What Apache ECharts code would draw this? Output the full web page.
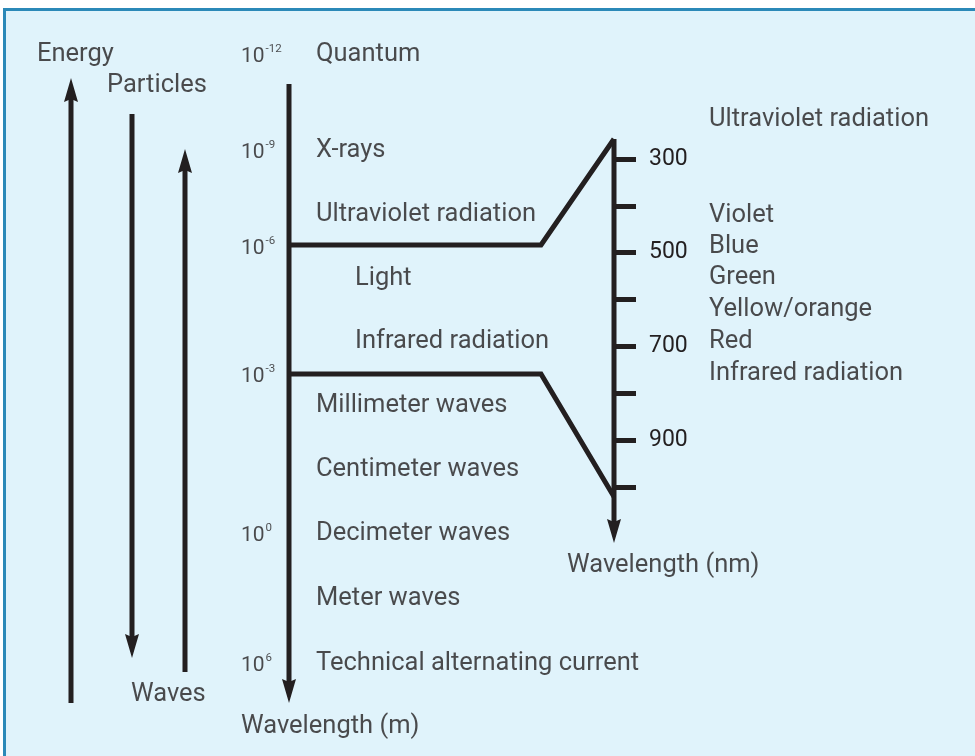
<!DOCTYPE html>
<html><head><meta charset="utf-8">
<script src="https://cdn.jsdelivr.net/npm/echarts@6/dist/echarts.min.js"></script>
<style>
html,body{margin:0;padding:0;background:#fff;}
#panel{position:absolute;left:3px;top:8px;width:972px;height:748px;box-sizing:border-box;background:#e0f3fb;border-top:3px solid #2b89b8;border-left:3px solid #2b89b8;}
#chart{position:absolute;left:0;top:0;width:975px;height:756px;}
</style></head><body>
<div id="panel"></div><div id="chart"></div>
<script>
// ---------------- data ----------------
const sideLabels = ['Energy', 'Particles', 'Waves'];
const decadeExponents = ['-12', '-9', '-6', '-3', '0', '6'];
const bandNames = ['Quantum', 'X-rays', 'Ultraviolet radiation', 'Light', 'Infrared radiation',
  'Millimeter waves', 'Centimeter waves', 'Decimeter waves', 'Meter waves', 'Technical alternating current'];
const mainAxisName = 'Wavelength (m)';
const nmTicks = [300, 400, 500, 600, 700, 800, 900, 1000];
const nmTickLabels = [300, 500, 700, 900];
const spectrumNames = ['Ultraviolet radiation', 'Violet', 'Blue', 'Green', 'Yellow/orange', 'Red', 'Infrared radiation'];
const spectrumNm = [215, 420, 486, 554, 622, 690, 759];
const nmAxisName = 'Wavelength (nm)';
const nmScaleTop = 257.3;      // nm where the zoom scale starts
const nmScaleTip = 1119.5;     // nm at the arrow tip
const zoomEdgeNm = [257.3, 1021]; // nm where the two zoom lines meet the scale

// ---------------- layout (diagram units) ----------------
const INK = '#231f20';
const FONT = 'Roboto';
const FS = 25.5;
const ARROW = 'path://M7,0L14,24L7,21L0,24Z';
const AH = 24, AW = 14;
const layout = {
  sideX: [37, 107, 131], sideY: [55, 86, 695],
  energyX: 71, energyY: [703, 78],
  particlesX: 132, particlesY: [114, 658],
  wavesX: 185, wavesY: [672, 149],
  axisX: 289, axisY: [84, 703],
  decadeX: 241, decadeY: [55, 151, 247, 375, 534, 664],
  bandX: [316, 316, 316, 355, 355, 316, 316, 316, 316, 316],
  bandY: [55, 151, 215, 279, 342, 406, 470, 534, 599, 664],
  mainNameXY: [241, 727],
  bracketY: [245, 374], bracketKneeX: 541,
  nmAxisX: 614, nmTop: 139, nmTip: 543,
  spectrumDX: 95, nmLabelMargin: 35, tickLen: 22,
  nmNameXY: [567, 566]
};

function nmToY(nm) {
  return layout.nmTop + (nm - nmScaleTop) * (layout.nmTip - layout.nmTop) / (nmScaleTip - nmScaleTop);
}

function arrowLine(pts, dir) {
  const data = pts.map((p, i) => {
    if (dir && i === pts.length - 1) {
      return { value: p, symbol: ARROW, symbolSize: [AW, AH], symbolRotate: dir === 'down' ? 180 : 0 };
    }
    return { value: p, symbol: 'none' };
  });
  return {
    type: 'line', xAxisIndex: 0, yAxisIndex: 0, data, showSymbol: true, showAllSymbol: true,
    lineStyle: { color: INK, width: 5, join: 'miter', cap: 'butt' },
    itemStyle: { color: INK, borderWidth: 0 }, silent: true, z: 3, clip: false
  };
}
function vArrow(x, yStart, yTip) {
  const dir = yTip > yStart ? 'down' : 'up';
  const yc = dir === 'down' ? yTip - AH / 2 : yTip + AH / 2;
  return arrowLine([[x, yStart], [x, yc]], dir);
}

const texts = [];
sideLabels.forEach((t, i) => texts.push({ value: [layout.sideX[i], layout.sideY[i]], text: t }));
bandNames.forEach((t, i) => texts.push({ value: [layout.bandX[i], layout.bandY[i]], text: t }));
texts.push({ value: layout.mainNameXY, text: mainAxisName });
texts.push({ value: layout.nmNameXY, text: nmAxisName });
decadeExponents.forEach((e, i) => texts.push({ value: [layout.decadeX, layout.decadeY[i]], text: '{n|10}{s|' + e + '}' }));

const series = [
  vArrow(layout.energyX, layout.energyY[0], layout.energyY[1]),
  vArrow(layout.particlesX, layout.particlesY[0], layout.particlesY[1]),
  vArrow(layout.wavesX, layout.wavesY[0], layout.wavesY[1]),
  vArrow(layout.axisX, layout.axisY[0], layout.axisY[1]),
  vArrow(layout.nmAxisX, nmToY(nmScaleTop), nmToY(nmScaleTip)),
  arrowLine([[layout.axisX, layout.bracketY[0]], [layout.bracketKneeX, layout.bracketY[0]], [layout.nmAxisX, nmToY(zoomEdgeNm[0])]], null),
  arrowLine([[layout.axisX, layout.bracketY[1]], [layout.bracketKneeX, layout.bracketY[1]], [layout.nmAxisX, nmToY(zoomEdgeNm[1])]], null),
  {
    type: 'scatter', xAxisIndex: 0, yAxisIndex: 0, symbolSize: 0, silent: true, clip: false, z: 5,
    itemStyle: { color: 'transparent' },
    label: {
      show: true, position: 'right', distance: 0, color: INK, fontFamily: FONT, fontSize: FS,
      formatter: p => p.data.text,
      rich: {
        n: { fontFamily: FONT, fontSize: 21, color: INK, lineHeight: 24, verticalAlign: 'bottom' },
        s: { fontFamily: FONT, fontSize: 11.5, color: INK, lineHeight: 24, verticalAlign: 'top', padding: [0, 0, 0, 1] }
      }
    },
    data: texts
  },
  {
    type: 'scatter', xAxisIndex: 1, yAxisIndex: 1, symbolSize: 0, silent: true, clip: false, z: 5,
    itemStyle: { color: 'transparent' },
    label: { show: true, position: 'right', distance: 0, color: INK, fontFamily: FONT, fontSize: FS, formatter: p => p.data.text },
    data: spectrumNames.map((t, i) => ({ value: [layout.spectrumDX, spectrumNm[i]], text: t }))
  }
];

const chart = echarts.init(document.getElementById('chart'), null, { renderer: 'canvas' });
chart.setOption({
  animation: false,
  backgroundColor: 'transparent',
  textStyle: { fontFamily: FONT, color: INK },
  grid: [
    { left: 0, top: 0, right: 0, bottom: 0, containLabel: false },
    { left: layout.nmAxisX, top: layout.nmTop, width: 975 - layout.nmAxisX, height: layout.nmTip - layout.nmTop, containLabel: false }
  ],
  xAxis: [
    { type: 'value', gridIndex: 0, min: 0, max: 975, show: false },
    { type: 'value', gridIndex: 1, min: 0, max: 975 - layout.nmAxisX, show: false }
  ],
  yAxis: [
    { type: 'value', gridIndex: 0, min: 0, max: 756, inverse: true, show: false },
    {
      type: 'value', gridIndex: 1, min: nmScaleTop, max: nmScaleTip, inverse: true, position: 'left',
      axisLine: { show: false },
      axisTick: { show: true, inside: true, length: layout.tickLen, customValues: nmTicks, lineStyle: { color: INK, width: 5 } },
      axisLabel: { show: true, inside: true, margin: layout.nmLabelMargin, customValues: nmTickLabels, color: INK, fontFamily: FONT, fontSize: 23 },
      splitLine: { show: false }
    }
  ],
  series
});
</script>
</body></html>
